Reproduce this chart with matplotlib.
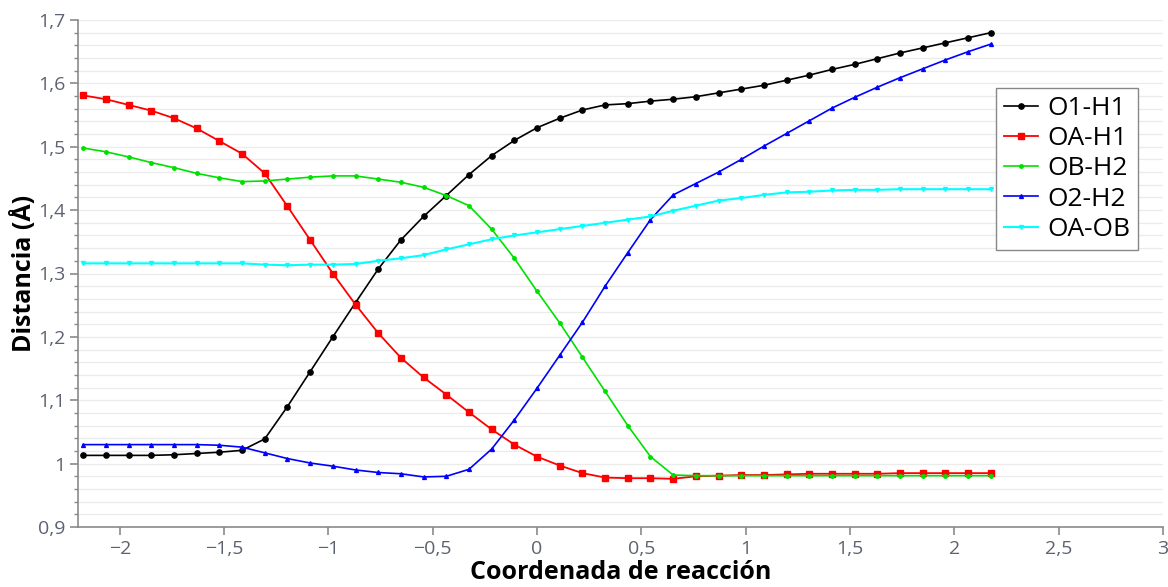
import numpy as np
import matplotlib
matplotlib.use("Agg")
import matplotlib.pyplot as plt
from matplotlib.ticker import MultipleLocator, FuncFormatter

# Reaction coordinate (41 points)
x = np.linspace(-2.175, 2.175, 41)

o1_h1 = [1.013, 1.013, 1.013, 1.013, 1.014, 1.016, 1.018, 1.021, 1.039, 1.090,
         1.145, 1.200, 1.254, 1.307, 1.353, 1.390, 1.423, 1.456, 1.486, 1.510,
         1.530, 1.545, 1.558, 1.566, 1.568, 1.572, 1.575, 1.579, 1.585, 1.591,
         1.597, 1.605, 1.613, 1.622, 1.630, 1.639, 1.648, 1.656, 1.664, 1.672,
         1.680]

oa_h1 = [1.581, 1.575, 1.566, 1.557, 1.545, 1.529, 1.509, 1.489, 1.458, 1.406,
         1.353, 1.300, 1.251, 1.206, 1.167, 1.136, 1.109, 1.081, 1.054, 1.030,
         1.011, 0.997, 0.985, 0.978, 0.977, 0.977, 0.976, 0.980, 0.981, 0.982,
         0.982, 0.983, 0.984, 0.984, 0.984, 0.984, 0.985, 0.985, 0.985, 0.985,
         0.985]

ob_h2 = [1.498, 1.492, 1.484, 1.475, 1.467, 1.458, 1.451, 1.445, 1.446, 1.449,
         1.452, 1.454, 1.454, 1.449, 1.444, 1.436, 1.423, 1.407, 1.370, 1.324,
         1.272, 1.222, 1.168, 1.114, 1.060, 1.011, 0.982, 0.981, 0.981, 0.981,
         0.981, 0.981, 0.981, 0.981, 0.981, 0.981, 0.981, 0.981, 0.981, 0.981,
         0.981]

o2_h2 = [1.030, 1.030, 1.030, 1.030, 1.030, 1.030, 1.029, 1.026, 1.017, 1.008,
         1.001, 0.996, 0.990, 0.986, 0.984, 0.979, 0.980, 0.991, 1.023, 1.069,
         1.119, 1.171, 1.223, 1.280, 1.333, 1.385, 1.424, 1.442, 1.460, 1.480,
         1.501, 1.521, 1.541, 1.561, 1.578, 1.594, 1.609, 1.623, 1.637, 1.650,
         1.662]

oa_ob = [1.316, 1.316, 1.316, 1.316, 1.316, 1.316, 1.316, 1.316, 1.314, 1.313,
         1.314, 1.314, 1.315, 1.320, 1.324, 1.329, 1.338, 1.346, 1.354, 1.360,
         1.365, 1.370, 1.375, 1.380, 1.385, 1.390, 1.399, 1.407, 1.415, 1.419,
         1.424, 1.428, 1.429, 1.431, 1.432, 1.432, 1.433, 1.433, 1.433, 1.433,
         1.433]

labels = ["O1-H1", "OA-H1", "OB-H2", "O2-H2", "OA-OB"]

plt.rcParams['font.family'] = ['Open Sans', 'DejaVu Sans']

fig = plt.figure(figsize=(11.68, 5.87), dpi=100)
ax = fig.add_axes([78/1168, 1-527/587, (1163-78)/1168, (527-20)/587])

ax.plot(x, o1_h1, color='black', lw=1.2, marker='o', ms=3.8, label=labels[0])
ax.plot(x, oa_h1, color='#ff0000', lw=1.3, marker='s', ms=3.8, label=labels[1])
ax.plot(x, ob_h2, color='#00e000', lw=1.2, marker='o', ms=2.5, label=labels[2])
ax.plot(x, o2_h2, color='#0000ff', lw=1.2, marker='^', ms=2.8, label=labels[3])
ax.plot(x, oa_ob, color='#00ffff', lw=1.5, marker='v', ms=2.8, label=labels[4])

ax.set_xlim(-2.2, 3.0)
ax.set_ylim(0.9, 1.7)

ax.xaxis.set_major_locator(MultipleLocator(0.5))
ax.yaxis.set_major_locator(MultipleLocator(0.1))
ax.yaxis.set_minor_locator(MultipleLocator(0.02))

def fmt(v, pos):
    s = '{:g}'.format(round(v, 3))
    return s.replace('.', ',').replace('-', '\u2212')

ax.xaxis.set_major_formatter(FuncFormatter(fmt))
ax.yaxis.set_major_formatter(FuncFormatter(fmt))

ax.grid(True, which='both', axis='y', color='#ebebeb', lw=0.9)
ax.set_axisbelow(True)

for s in ['top', 'right']:
    ax.spines[s].set_visible(False)
for s in ['left', 'bottom']:
    ax.spines[s].set_color('#8a8a8a')
    ax.spines[s].set_linewidth(1.2)

ax.tick_params(axis='both', which='major', colors='#8a8a8a', labelcolor='#5c6370',
               labelsize=14, length=6, width=1.2, pad=3)
ax.tick_params(axis='y', which='minor', colors='#8a8a8a', length=3, width=1.0)

ax.set_xlabel('Coordenada de reacción', fontsize=18, fontweight='bold', labelpad=2)
ax.set_ylabel('Distancia (Å)', fontsize=18, fontweight='bold', labelpad=1)

leg = ax.legend(loc='upper right', bbox_to_anchor=(0.977, 0.866), fontsize=19,
                frameon=True, fancybox=False, edgecolor='#888888', framealpha=1,
                handlelength=1.3, labelspacing=0.2, borderpad=0.3,
                handletextpad=0.35, borderaxespad=0)
leg.get_frame().set_linewidth(1.0)

fig.savefig('out.png', dpi=100)
